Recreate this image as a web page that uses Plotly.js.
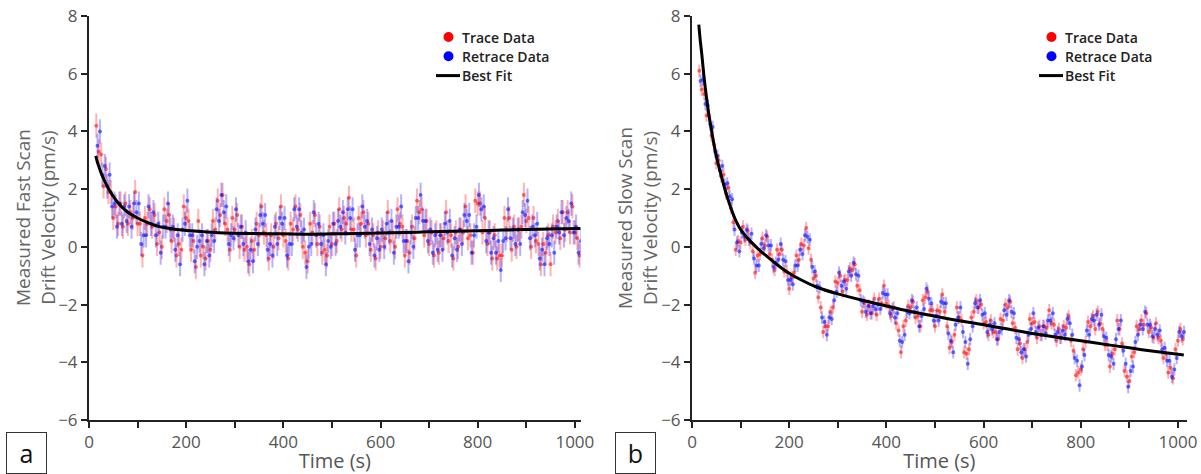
<!DOCTYPE html>
<html><head><meta charset="utf-8">
<script src="https://cdn.plot.ly/plotly-3.0.1.min.js"></script>
<style>html,body{margin:0;padding:0;background:#fff}#chart{width:1201px;height:474px}</style>
</head><body><div id="chart"></div>
<script>
// sample times (s) of trace and retrace readings
const traceTimes = [15,20,25,30,35,40,45,50,55,60,65,70,75,80,85,90,95,100,105,110,115,120,125,130,135,140,145,150,155,160,165,170,175,180,185,190,195,200,205,210,215,220,225,230,235,240,245,250,255,260,265,270,275,280,285,290,295,300,305,310,315,320,325,330,335,340,345,350,355,360,365,370,375,380,385,390,395,400,405,410,415,420,425,430,435,440,445,450,455,460,465,470,475,480,485,490,495,500,505,510,515,520,525,530,535,540,545,550,555,560,565,570,575,580,585,590,595,600,605,610,615,620,625,630,635,640,645,650,655,660,665,670,675,680,685,690,695,700,705,710,715,720,725,730,735,740,745,750,755,760,765,770,775,780,785,790,795,800,805,810,815,820,825,830,835,840,845,850,855,860,865,870,875,880,885,890,895,900,905,910,915,920,925,930,935,940,945,950,955,960,965,970,975,980,985,990,995,1000,1005,1010];
const retraceTimes = [17.5,22.5,27.5,32.5,37.5,42.5,47.5,52.5,57.5,62.5,67.5,72.5,77.5,82.5,87.5,92.5,97.5,102.5,107.5,112.5,117.5,122.5,127.5,132.5,137.5,142.5,147.5,152.5,157.5,162.5,167.5,172.5,177.5,182.5,187.5,192.5,197.5,202.5,207.5,212.5,217.5,222.5,227.5,232.5,237.5,242.5,247.5,252.5,257.5,262.5,267.5,272.5,277.5,282.5,287.5,292.5,297.5,302.5,307.5,312.5,317.5,322.5,327.5,332.5,337.5,342.5,347.5,352.5,357.5,362.5,367.5,372.5,377.5,382.5,387.5,392.5,397.5,402.5,407.5,412.5,417.5,422.5,427.5,432.5,437.5,442.5,447.5,452.5,457.5,462.5,467.5,472.5,477.5,482.5,487.5,492.5,497.5,502.5,507.5,512.5,517.5,522.5,527.5,532.5,537.5,542.5,547.5,552.5,557.5,562.5,567.5,572.5,577.5,582.5,587.5,592.5,597.5,602.5,607.5,612.5,617.5,622.5,627.5,632.5,637.5,642.5,647.5,652.5,657.5,662.5,667.5,672.5,677.5,682.5,687.5,692.5,697.5,702.5,707.5,712.5,717.5,722.5,727.5,732.5,737.5,742.5,747.5,752.5,757.5,762.5,767.5,772.5,777.5,782.5,787.5,792.5,797.5,802.5,807.5,812.5,817.5,822.5,827.5,832.5,837.5,842.5,847.5,852.5,857.5,862.5,867.5,872.5,877.5,882.5,887.5,892.5,897.5,902.5,907.5,912.5,917.5,922.5,927.5,932.5,937.5,942.5,947.5,952.5,957.5,962.5,967.5,972.5,977.5,982.5,987.5,992.5,997.5,1002.5,1007.5,1012.5];

// (a) fast scan drift velocity (pm/s)
const fastTrace = [4.2,3.3,3.2,2.1,2.7,1.9,1.9,1.0,1.4,0.8,
1.5,0.7,1.5,0.8,1.2,1.0,1.9,0.8,0.8,-0.3,
1.0,0.8,1.3,0.7,1.1,0.1,0.5,0.0,1.3,0.9,
1.1,0.2,0.6,-0.3,0.1,-0.1,1.4,1.0,0.9,-0.1,
0.2,-0.7,0.9,-0.3,0.0,-0.4,0.2,-0.1,0.9,0.6,
1.6,1.1,1.8,0.8,0.6,-0.1,1.0,0.6,1.1,0.0,
0.7,-0.1,0.0,-0.6,0.2,-0.1,0.8,0.4,1.4,0.5,
0.4,-0.4,0.4,0.0,0.8,0.3,1.4,0.4,0.2,-0.4,
0.8,0.6,1.4,0.6,1.1,0.0,-0.2,-0.5,0.8,0.5,
1.1,0.1,0.7,-0.2,-0.1,-0.3,0.7,0.1,0.8,0.2,
1.3,0.6,1.0,0.8,1.7,0.6,0.6,-0.3,1.0,0.8,
1.2,0.4,0.8,-0.1,0.4,-0.4,0.5,0.0,0.5,0.3,
1.2,0.2,0.5,0.0,1.3,0.8,0.7,-0.3,0.2,-0.2,
0.7,0.3,1.6,1.2,1.3,0.4,0.9,0.1,0.5,-0.3,
0.5,-0.2,0.4,0.3,1.2,0.2,0.4,-0.4,0.5,0.0,
0.6,0.5,1.4,0.3,0.4,-0.2,1.6,1.5,1.5,0.5,
1.0,0.1,0.5,-0.4,0.4,-0.4,-0.3,-0.3,1.0,0.6,
1.0,-0.1,0.7,0.0,0.6,0.7,1.8,0.9,1.0,0.0,
1.0,0.2,0.1,-0.6,0.1,-0.2,0.4,-0.6,0.7,0.5,
0.9,0.3,1.2,0.6,1.2,0.5,1.4,0.5,0.3,-0.3];
const fastRetrace = [3.5,4.0,2.5,2.8,2.1,2.5,1.4,1.5,0.7,1.5,
0.8,1.4,0.9,1.4,0.7,1.5,1.2,1.5,0.1,0.4,
0.4,1.4,0.8,1.2,0.4,0.8,-0.2,0.7,0.7,1.5,
0.6,0.7,-0.1,0.4,-0.6,0.6,0.8,1.6,0.4,0.4,
-0.5,0.0,0.2,0.4,-0.6,0.2,-0.3,0.4,0.2,1.3,
0.9,1.8,1.2,1.4,0.1,0.4,0.3,1.3,0.4,0.7,
0.1,0.5,-0.5,-0.1,-0.5,0.6,0.1,1.1,0.8,1.1,
-0.1,0.1,-0.3,0.7,0.1,1.0,0.8,1.0,-0.3,0.1,
0.1,1.3,0.7,1.3,0.5,0.6,-0.7,0.0,0.1,1.2,
0.4,0.8,0.1,0.4,-0.6,0.2,0.0,0.8,0.1,0.9,
0.7,1.2,0.5,1.3,1.0,1.3,-0.1,0.4,0.4,1.4,
0.7,0.9,0.1,0.6,-0.3,0.3,-0.1,0.6,0.0,0.8,
0.5,0.9,-0.2,0.7,0.7,1.4,0.2,0.2,-0.5,0.5,
0.0,1.0,1.0,1.8,0.9,0.9,0.2,0.6,-0.2,0.4,
-0.1,0.4,-0.1,0.8,0.5,0.9,-0.3,0.3,-0.1,0.6,
0.1,1.1,0.9,1.1,-0.2,0.4,0.7,1.8,1.3,1.4,
0.2,0.5,-0.2,0.3,-0.2,0.2,-0.8,0.2,0.3,1.3,
0.3,0.6,0.1,0.6,0.1,1.2,1.1,1.6,0.3,0.7,
0.4,0.8,-0.4,-0.1,-0.6,0.3,0.1,0.4,-0.2,0.7,
0.5,1.2,0.4,1.0,0.9,1.5,0.5,0.7,-0.2,0.2];
const fastFitT = [14,17,20,25,30,35,40,45,50,55,60,70,80,90,100,115,130,145,160,180,200,230,266,300,342,400,450,500,550,600,650,700,750,800,850,900,950,1012];
const fastFitV = [3.15,2.95,2.8,2.55,2.36,2.18,2.02,1.88,1.75,1.63,1.52,1.34,1.2,1.09,1.0,0.88,0.78,0.7,0.65,0.6,0.57,0.53,0.49,0.47,0.46,0.45,0.44,0.45,0.46,0.48,0.5,0.52,0.54,0.56,0.58,0.6,0.62,0.64];

// (b) slow scan drift velocity (pm/s)
const slowTrace = [6.1,5.45,5.3,4.55,4.55,3.85,3.55,2.9,3.0,2.45,
2.5,1.85,2.05,1.35,0.85,-0.1,0.2,0.15,0.7,0.25,
0.55,0.15,-0.15,-0.9,-0.3,-0.25,0.3,0.05,0.35,-0.25,
-0.45,-0.8,-0.1,-0.25,-0.1,-0.85,-0.85,-1.45,-1.05,-0.9,
-0.3,-0.45,0.1,0.05,0.65,-0.05,-0.45,-1.1,-1.0,-1.75,
-2.1,-2.95,-2.75,-2.75,-2.25,-2.1,-1.2,-1.25,-1.0,-1.55,
-1.15,-1.15,-0.75,-0.8,-0.6,-1.35,-1.5,-2.25,-1.95,-2.35,
-2.05,-2.3,-1.8,-2.35,-1.8,-1.95,-1.35,-1.95,-2.05,-2.4,
-2.1,-2.65,-2.9,-3.65,-2.75,-2.55,-2.05,-2.1,-1.9,-2.45,
-2.4,-2.75,-1.85,-1.75,-1.55,-2.2,-2.2,-2.75,-2.2,-2.25,
-1.65,-2.25,-2.75,-3.5,-3.3,-3.05,-2.1,-2.45,-2.55,-3.65,
-3.7,-3.55,-2.45,-2.25,-1.85,-2.1,-2.0,-2.65,-2.6,-3.05,
-2.55,-2.95,-2.95,-3.2,-2.5,-2.55,-2.0,-2.1,-1.9,-2.65,
-2.8,-3.55,-3.35,-3.85,-3.55,-3.3,-2.5,-2.65,-2.6,-3.15,
-2.75,-3.05,-2.75,-2.8,-2.2,-2.65,-2.7,-3.25,-2.85,-3.15,
-2.75,-2.8,-2.4,-3.25,-3.6,-4.45,-4.35,-4.25,-3.55,-3.3,
-2.6,-2.75,-2.4,-2.85,-2.25,-2.65,-2.85,-3.4,-3.4,-4.15,
-3.7,-3.55,-2.55,-2.85,-3.35,-4.3,-4.5,-4.65,-3.8,-3.65,
-2.75,-2.85,-2.55,-2.7,-2.3,-2.95,-2.8,-3.15,-2.65,-3.15,
-3.25,-3.85,-3.7,-4.35,-4.2,-4.55,-3.55,-3.25,-2.85,-3.2];
const slowRetrace = [5.75,5.8,4.95,4.9,4.25,4.15,3.3,3.15,2.65,2.8,
2.15,2.2,1.75,1.65,0.6,0.15,-0.15,0.5,0.35,0.6,
0.25,0.45,-0.4,-0.65,-0.65,0.1,-0.05,0.4,0.05,0.05,
-0.7,-0.55,-0.45,0.1,-0.45,-0.5,-1.15,-1.15,-1.3,-0.65,
-0.65,-0.1,-0.25,0.4,0.35,0.25,-0.7,-0.85,-1.35,-1.4,
-2.45,-2.6,-3.05,-2.45,-2.5,-1.85,-1.55,-0.9,-1.35,-1.2,
-1.45,-0.85,-1.0,-0.55,-0.95,-1.0,-1.85,-1.9,-2.25,-2.05,
-2.3,-2.05,-2.15,-2.0,-2.15,-1.6,-1.65,-1.65,-2.3,-2.15,
-2.45,-2.3,-3.25,-3.3,-3.05,-2.25,-2.3,-1.85,-2.25,-2.1,
-2.75,-2.4,-2.15,-1.45,-1.8,-1.95,-2.55,-2.4,-2.55,-1.9,
-1.95,-1.95,-3.0,-3.25,-3.65,-2.7,-2.45,-2.1,-2.95,-3.3,
-4.05,-3.2,-2.75,-1.95,-2.1,-1.85,-2.35,-2.3,-2.95,-2.7,
-2.85,-2.65,-3.2,-2.95,-2.85,-2.2,-2.35,-1.85,-2.25,-2.3,
-3.15,-3.2,-3.65,-3.55,-3.8,-3.05,-2.85,-2.3,-2.95,-2.8,
-3.05,-2.75,-3.0,-2.55,-2.55,-2.3,-3.05,-2.95,-3.15,-2.9,
-3.05,-2.5,-2.65,-3.05,-3.85,-3.95,-4.8,-4.15,-3.75,-2.9,
-3.05,-2.5,-2.55,-2.35,-2.7,-2.35,-3.1,-3.15,-3.75,-3.8,
-4.05,-3.2,-2.85,-2.55,-3.6,-4.05,-4.85,-4.3,-4.15,-3.3,
-3.05,-2.7,-2.85,-2.25,-2.7,-2.7,-3.1,-2.85,-3.05,-2.9,
-3.55,-3.5,-3.95,-3.95,-4.5,-4.25,-3.85,-2.95,-3.1,-2.95];
const slowFitT = [14,17,20,25,30,35,40,45,50,55,60,66,72,80,90,100,110,120,135,150,170,195,225,257,300,353,400,450,511,550,600,650,700,750,800,850,900,950,1012];
const slowFitV = [7.7,7.15,6.7,5.85,5.15,4.55,4.05,3.57,3.15,2.8,2.48,2.1,1.75,1.35,0.92,0.6,0.38,0.2,-0.05,-0.27,-0.55,-0.86,-1.15,-1.4,-1.63,-1.86,-2.05,-2.24,-2.44,-2.56,-2.7,-2.85,-3.0,-3.13,-3.25,-3.38,-3.5,-3.62,-3.75];

const xTickVals = [0,100,200,300,400,500,600,700,800,900,1000];
const xTickText = ['0','','200','','400','','600','','800','','1000'];
const yTickVals = [-6,-4,-2,0,2,4,6,8];
const legendNames = ['Trace Data','Retrace Data','Best Fit'];
const panelLabels = ['a','b'];
const yTitles = ['Measured Fast Scan<br>Drift Velocity (pm/s)','Measured Slow Scan<br>Drift Velocity (pm/s)'];

const W = 1201, H = 474;
const px = v => v / W, py = v => 1 - v / H;
const FONT = 'Open Sans, Liberation Sans, sans-serif';
const RED = '#ff0000', BLUE = '#0000ff';

function panel(xa, ya, tr, re, fitT, fitV, name, spread) {
  const cloud = (t, v, c, e) => ({x: t, y: v, xaxis: xa, yaxis: ya, type: 'scatter', mode: 'markers', showlegend: false,
    marker: {color: c, size: 4, opacity: 0.55},
    error_y: {type: 'constant', value: spread, thickness: 2, width: 0, color: e}});
  return [
    Object.assign(cloud(traceTimes, tr, RED, 'rgba(255,0,0,0.3)'), {name: name + ' ' + legendNames[0]}),
    Object.assign(cloud(retraceTimes, re, BLUE, 'rgba(0,0,255,0.3)'), {name: name + ' ' + legendNames[1]}),
    {x: fitT, y: fitV, xaxis: xa, yaxis: ya, type: 'scatter', mode: 'lines', name: name + ' ' + legendNames[2], showlegend: false,
     line: {color: '#000', width: 3, shape: 'spline', smoothing: 0.8}}
  ];
}

const data = [].concat(
  panel('x', 'y', fastTrace, fastRetrace, fastFitT, fastFitV, 'fast', 0.42),
  panel('x2', 'y2', slowTrace, slowRetrace, slowFitT, slowFitV, 'slow', 0.22)
);

function xaxis(domain, range, anchor) {
  return {domain: domain, range: range, anchor: anchor, tickmode: 'array', tickvals: xTickVals, ticktext: xTickText,
    showline: true, linecolor: '#222', linewidth: 2, ticks: 'outside', ticklen: 6, tickwidth: 2, tickcolor: '#222',
    showgrid: false, zeroline: false, tickfont: {family: FONT, size: 17, color: '#555'},
    title: {text: 'Time (s)', font: {family: FONT, size: 20, color: '#555'}, standoff: 2}};
}
function yaxis(domain, anchor) {
  return {domain: domain, range: [-6, 8], anchor: anchor, tickmode: 'array', tickvals: yTickVals,
    showline: true, linecolor: '#222', linewidth: 2, ticks: 'outside', ticklen: 6, tickwidth: 2, tickcolor: '#222',
    showgrid: false, zeroline: false, tickfont: {family: FONT, size: 17, color: '#555'}};
}

// hand-built legends (dot / line symbol + label) for each panel, plus y titles and panel tags
const legendPos = [{dot: 448.5, lineL: 436, lineR: 460, text: 461}, {dot: 1051.5, lineL: 1039, lineR: 1063, text: 1064}];
const rowY = [37, 56.3, 75.6];
const shapes = [], annotations = [];
legendPos.forEach(p => {
  [RED, BLUE].forEach((c, i) => shapes.push({type: 'circle', xref: 'paper', yref: 'paper',
    x0: px(p.dot - 5), x1: px(p.dot + 5), y0: py(rowY[i] + 5), y1: py(rowY[i] - 5), fillcolor: c, line: {width: 0}}));
  shapes.push({type: 'line', xref: 'paper', yref: 'paper', x0: px(p.lineL), x1: px(p.lineR), y0: py(rowY[2]), y1: py(rowY[2]),
    line: {color: '#000', width: 3}});
  legendNames.forEach((n, i) => annotations.push({xref: 'paper', yref: 'paper', x: px(p.text), y: py(rowY[i]),
    xanchor: 'left', yanchor: 'middle', text: n, showarrow: false, borderpad: 0,
    font: {family: FONT, size: 14, weight: 600, color: '#222'}}));
});
[{x: 36, t: yTitles[0]}, {x: 638, t: yTitles[1]}].forEach(b => annotations.push({
  xref: 'paper', yref: 'paper', x: px(b.x), y: py(218), xanchor: 'center', yanchor: 'middle', textangle: -90,
  text: b.t, showarrow: false, font: {family: FONT, size: 19, color: '#666'}}));
[{x: 26, t: panelLabels[0]}, {x: 635.5, t: panelLabels[1]}].forEach(b => annotations.push({
  xref: 'paper', yref: 'paper', x: px(b.x), y: py(453), xanchor: 'center', yanchor: 'middle', text: b.t, showarrow: false,
  font: {family: FONT, size: 25, color: '#111'}, bordercolor: '#333', borderwidth: 1, width: 37, height: 38, borderpad: 1}));

const layout = {
  width: W, height: H,
  margin: {l: 0, r: 0, t: 0, b: 0},
  paper_bgcolor: '#fff', plot_bgcolor: '#fff', showlegend: false,
  xaxis: xaxis([px(89), px(580.7)], [0, 1012], 'y'),
  yaxis: yaxis([py(420), py(16)], 'x'),
  xaxis2: xaxis([px(692), px(1186.7)], [0, 1018], 'y2'),
  yaxis2: yaxis([py(420), py(16)], 'x2'),
  shapes: shapes,
  annotations: annotations
};

Plotly.newPlot('chart', data, layout, {staticPlot: true, displayModeBar: false});
</script></body></html>
